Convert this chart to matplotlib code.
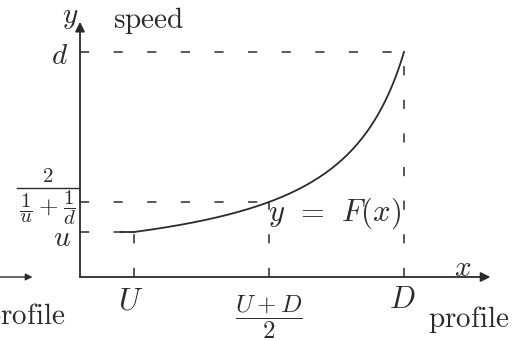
import numpy as np
import matplotlib
matplotlib.use("Agg")
import matplotlib.pyplot as plt

plt.rcParams['mathtext.fontset'] = 'cm'

# profile positions and speeds at the ends of the stretch
U, D = 1.0, 6.0
u, d = 1.0, 5.0
harm = 2.0 / (1.0 / u + 1.0 / d)
mid = (U + D) / 2

ink = '#2b2b2b'

fig = plt.figure(figsize=(5.14, 3.40), dpi=100)
ax = fig.add_axes([0, 0, 1, 1])
ax.set_xlim(-80 / 54, 434 / 54)
ax.set_ylim(-63 / 45, 277 / 45)
ax.axis('off')

# axes with arrow heads
arr = dict(arrowstyle='-|>', color=ink, lw=1.3, mutation_scale=14, shrinkA=0, shrinkB=0)
ax.annotate('', xy=(0, 5.67), xytext=(0, 0), arrowprops=arr)
ax.annotate('', xy=(7.6, 0), xytext=(0, 0), arrowprops=arr)
ax.annotate('', xy=(-0.88, 0), xytext=(-1.5, 0), arrowprops=dict(arr, lw=1.0, mutation_scale=10))

# F(x): 1/y varies linearly between the ends, so the midpoint gives the harmonic mean
xs = np.linspace(U, D, 200)
ys = 1.0 / (1.0 / u + (1.0 / d - 1.0 / u) * (xs - U) / (D - U))
ax.plot(xs, ys, color=ink, lw=1.3)
ax.plot([U - 0.25, U], [u, u], color=ink, lw=1.3)

dash = dict(color=ink, lw=1.1, dashes=(6, 16))
ax.plot([0, D], [d, d], **dash)
ax.plot([D, D], [0, d], **dash)
ax.plot([0, mid], [harm, harm], **dash)
ax.plot([mid, mid], [0, harm], **dash)
ax.plot([0, U], [u, u], **dash)
ax.plot([U, U], [0, u], **dash)

fs = 21
ax.text(-0.19, 5.78, r'$y$', fontsize=fs, color=ink, ha='center', va='center')
ax.text(0.61, 5.71, r'$\mathrm{speed}$', fontsize=fs, color=ink, ha='left', va='center')
ax.text(-0.37, 4.91, r'$d$', fontsize=fs, color=ink, ha='center', va='center')

# harmonic mean label, set as a built-up fraction
ax.text(-0.59, 2.24, r'$2$', fontsize=15, color=ink, ha='center', va='center')
ax.plot([-1.16, -0.02], [1.97, 1.97], color=ink, lw=1.0)
ax.text(-1.0, 1.53, r'$\dfrac{1}{u}$', fontsize=15, color=ink, ha='center', va='center')
ax.text(-0.6, 1.56, r'$+$', fontsize=18, color=ink, ha='center', va='center')
ax.text(-0.2, 1.53, r'$\dfrac{1}{d}$', fontsize=15, color=ink, ha='center', va='center')

ax.text(-0.33, 0.87, r'$u$', fontsize=fs, color=ink, ha='center', va='center')
ax.text(U - 0.07, -0.54, r'$U$', fontsize=22, color=ink, ha='center', va='center')
ax.text(mid, -0.89, r'$\dfrac{U+D}{2}$', fontsize=18, color=ink, ha='center', va='center')
ax.text(D - 0.04, -0.49, r'$D$', fontsize=22, color=ink, ha='center', va='center')
ax.text(6.44, -0.94, r'$\mathrm{profile}$', fontsize=fs, color=ink, ha='left', va='center')
ax.text(-0.28, -0.87, r'$\mathrm{profile}$', fontsize=fs, color=ink, ha='right', va='center')
ax.text(7.09, 0.2, r'$x$', fontsize=fs, color=ink, ha='center', va='center')
ax.text(3.48, 1.42, r'$y\;\,=\;\,F(x)$', fontsize=22, color=ink, ha='left', va='center')

fig.savefig('out.png', dpi=100, facecolor='white')
